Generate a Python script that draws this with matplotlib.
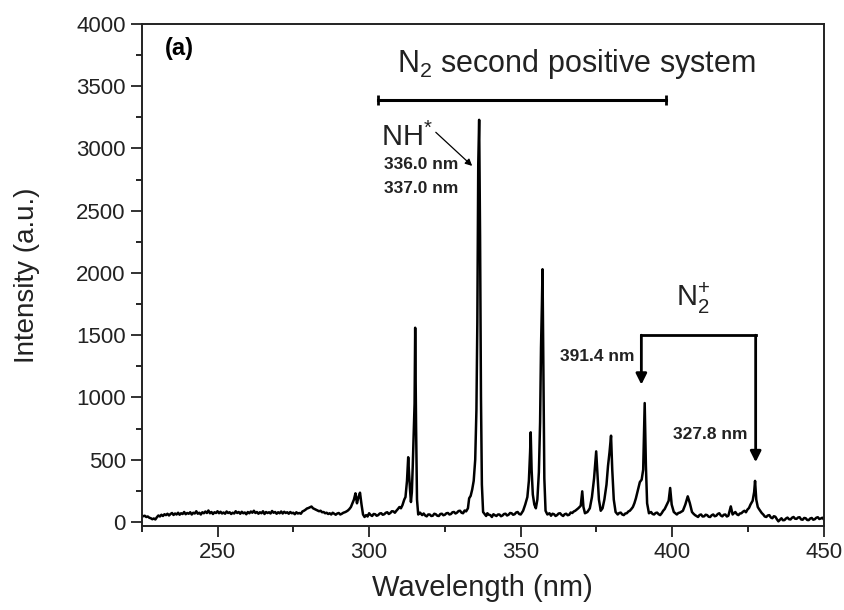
import numpy as np
import matplotlib
matplotlib.use("Agg")
import matplotlib.pyplot as plt
from matplotlib.ticker import MultipleLocator

plt.rcParams["font.family"] = ["Liberation Sans", "DejaVu Sans"]
plt.rcParams["mathtext.fontset"] = "custom"
plt.rcParams["mathtext.rm"] = "Liberation Sans"
plt.rcParams["mathtext.it"] = "Liberation Sans:italic"
plt.rcParams["mathtext.bf"] = "Liberation Sans:bold"

# ---------------------------------------------------------------
# spectrum (wavelength in nm, intensity a.u.)
# ---------------------------------------------------------------
# flat UV stretch, read every 0.5 nm from 225.0 to 294.5
wl_uv = list(np.arange(225.0, 295.0, 0.5))
int_uv = [52, 46, 50, 40, 44, 34, 30, 22, 28, 20,
          38, 52, 44, 58, 48, 62, 55, 66, 52, 64,
          72, 56, 68, 60, 74, 58, 70, 64, 80, 62,
          72, 66, 78, 60, 74, 68, 86, 66, 74, 60,
          78, 70, 84, 72, 92, 70, 80, 64, 78, 72,
          86, 70, 82, 68, 76, 66, 84, 72, 78, 64,
          74, 68, 86, 72, 80, 66, 82, 70, 76, 62,
          80, 70, 84, 74, 90, 72, 80, 66, 78, 70,
          86, 64, 80, 72, 78, 68, 88, 74, 80, 66,
          78, 70, 84, 68, 82, 72, 78, 66, 80, 70,
          74, 62, 78, 68, 72, 66, 84, 90, 98, 108,
          112, 118, 124, 110, 104, 98, 92, 86, 90, 78,
          80, 70, 74, 64, 70, 60, 74, 66, 58, 68,
          72, 60, 66, 74, 78, 84, 92, 104, 120, 150]

wl_sps1 = [295.0, 295.5, 296.0, 296.5, 297.0, 297.5, 298.0, 298.5, 299, 299.5, 300,
           300.5, 301, 301.5, 302, 302.5, 303, 303.5, 304, 304.5, 305, 305.5, 306,
           306.5, 307, 307.5, 308, 308.5, 309, 309.5, 310, 310.5, 311, 311.6, 312.0,
           312.5, 312.9, 313.2, 313.5, 313.8, 314.1, 314.4, 314.7, 315.0, 315.2, 315.5,
           315.8, 316.2, 316.8, 317.5, 318, 318.5, 319, 319.5, 320, 320.5, 321, 321.5,
           322, 322.5, 323, 323.5, 324, 324.5, 325, 325.5, 326, 326.5, 327, 327.5, 328,
           328.5, 329, 329.5, 330, 330.5, 331, 331.5, 332, 332.6, 333.0, 333.5, 334.0,
           334.5, 335.0, 335.4, 335.7, 336.0, 336.3, 336.6, 336.9, 337.2, 337.6, 338.2,
           338.6, 339, 339.5, 340, 340.5, 341, 341.5, 342, 342.5, 343, 343.5, 344,
           344.5, 345, 345.5, 346, 346.5, 347, 347.5, 348, 348.5, 349, 349.5, 350]
int_sps1 = [180, 230, 150, 200, 235, 140, 60, 40, 55, 44, 70,
            56, 48, 64, 62, 50, 55, 68, 70, 58, 62, 74, 78,
            64, 72, 86, 85, 74, 90, 104, 120, 110, 135, 180, 200,
            330, 520, 380, 260, 160, 240, 450, 700, 950, 1560, 760,
            180, 60, 75, 55, 68, 52, 45, 60, 60, 48, 50, 66,
            62, 50, 48, 64, 66, 54, 58, 70, 72, 60, 64, 78, 80,
            68, 75, 88, 90, 74, 70, 92, 85, 110, 190, 210, 260,
            330, 500, 900, 1600, 2870, 3230, 2300, 1000, 300, 80, 60,
            48, 70, 58, 55, 40, 62, 54, 48, 60, 60, 46, 52,
            64, 66, 52, 58, 72, 70, 58, 62, 76, 80, 64, 60]

wl_sps2 = [350.8, 351.5, 352.2, 352.7, 353.1, 353.3, 353.6, 354.0, 354.5, 355.0, 355.5,
           356.0, 356.4, 356.7, 357.0, 357.2, 357.5, 357.8, 358.2, 358.8, 359.5, 360,
           360.5, 361, 361.5, 362, 362.5, 363, 363.5, 364, 364.5, 365, 365.5, 366,
           366.5, 367, 367.5, 368, 368.5, 369, 369.8, 370.3, 370.7, 371.2, 372, 372.8,
           373.5, 374.2, 374.6, 374.9, 375.3, 375.8, 376.4, 377, 377.6, 378.3, 378.8,
           379.3, 379.8, 380.2, 380.7, 381.3, 382, 382.5, 383, 383.5, 384, 384.5, 385,
           385.5, 386, 386.5, 387, 387.5, 388]
int_sps2 = [90, 140, 200, 330, 560, 720, 420, 220, 140, 110, 180,
            400, 800, 1400, 1750, 2030, 1200, 350, 90, 60, 70, 50,
            66, 62, 48, 55, 68, 70, 56, 48, 62, 66, 54, 58, 76, 72,
            84, 90, 100, 110, 130, 246, 120, 70, 80, 110,
            200, 350, 480, 567, 400, 180, 90, 110, 180, 300, 450,
            560, 693, 420, 180, 80, 60, 72, 75, 60, 55, 68, 70,
            84, 90, 104, 120, 150, 190]

wl_ion = [388.7, 389.3, 389.9, 390.4, 390.9, 391.3, 391.7, 392.3, 393, 393.5, 394, 394.5,
          395, 395.5, 396, 396.5, 397, 397.5, 398, 398.8, 399.3, 399.8, 400.5, 401,
          401.5, 402, 402.5, 403, 403.5, 404.3, 405.1, 405.8, 406.5, 407, 407.5, 408,
          408.5, 409, 409.5, 410, 410.5, 411, 411.5, 412, 412.5, 413, 413.5, 414,
          414.5, 415, 415.5, 416, 416.5, 417, 417.5, 418, 418.5, 419.3, 419.9, 420.4,
          420.8, 421.3, 421.8, 422.3, 422.8, 423.3, 423.8, 424.3, 424.8, 425.3, 425.8,
          426.5, 427.0, 427.3, 427.7, 428.2, 428.6, 429, 429.5, 430, 430.5, 431, 431.5,
          432, 432.5, 433, 433.5, 434, 434.5, 435, 435.5, 436, 436.5, 437, 437.5, 438,
          438.5, 439, 439.5, 440, 440.5, 441, 441.5, 442, 442.5, 443, 443.5, 444,
          444.5, 445, 445.5, 446, 446.5, 447, 447.5, 448, 448.5, 449, 449.5, 450]
int_ion = [260, 320, 340, 420, 955, 450, 150, 70, 80, 64, 60, 72,
           75, 62, 55, 70, 90, 104, 130, 170, 273, 140, 80, 70,
           60, 72, 75, 82, 90, 140, 206, 150, 80, 66, 55, 48,
           40, 56, 60, 44, 45, 58, 55, 42, 40, 54, 60, 46,
           50, 64, 70, 52, 45, 58, 60, 44, 50, 125, 60, 72,
           80, 62, 55, 68, 70, 82, 90, 78, 100, 112, 140,
           170, 240, 330, 180, 120, 104, 90, 72, 60, 44, 40, 52,
           55, 36, 30, 46, 42, 22, 5, 18, 30, 14, 15, 28, 35,
           22, 20, 34, 40, 26, 25, 36, 38, 20, 18, 32, 30,
           16, 15, 28, 32, 18, 22, 34, 38, 24, 28, 34, 20]

wavelength = np.array(wl_uv + wl_sps1 + wl_sps2 + wl_ion, dtype=float)
intensity = np.array(int_uv + int_sps1 + int_sps2 + int_ion, dtype=float)

# annotation anchors (nm, a.u.)
sps_band = [303, 398]
ion_lines = [389.8, 427.5]
ion_tips = [1103, 480]

fig = plt.figure(figsize=(8.45, 6.1), dpi=100)
ax = fig.add_axes([0.1677, 0.1382, 0.8073, 0.8225])

ax.plot(wavelength, intensity, color="black", lw=1.8)

ax.set_xlim(225, 450)
ax.set_ylim(-30, 4000)
ax.xaxis.set_major_locator(MultipleLocator(50))
ax.xaxis.set_minor_locator(MultipleLocator(25))
ax.yaxis.set_major_locator(MultipleLocator(500))
ax.yaxis.set_minor_locator(MultipleLocator(250))
ax.tick_params(which="major", direction="out", length=8, width=1.3, labelsize=16,
               colors="#222222", top=False, right=False)
ax.tick_params(which="minor", direction="out", length=4, width=1.2, top=False, right=False)
for sp in ax.spines.values():
    sp.set_linewidth(1.4)
    sp.set_color("#222222")

ax.set_xlabel("Wavelength (nm)", fontsize=21, labelpad=8, color="#222222")
ax.set_ylabel("Intensity (a.u.)", fontsize=20, labelpad=26, color="#222222")

# panel label
ax.text(232.5, 3800, "(a)", fontsize=17, fontweight="bold", va="center", ha="left")

# N2 second positive system bar
ax.text(368.5, 3680, r"N$_\mathregular{2}$ second positive system", fontsize=22,
        ha="center", va="center", color="#222222")
ax.plot(sps_band, [3390, 3390], color="black", lw=2.2, marker="|", ms=7, mew=2)

# NH* label and arrow
ax.text(304.0, 3090, r"NH$^\mathregular{*}$", fontsize=21, ha="left", va="center",
        color="#222222")
ax.annotate("", xy=(334.0, 2860), xytext=(322.0, 3130),
            arrowprops=dict(arrowstyle="-|>", color="black", lw=0.9,
                            mutation_scale=10, shrinkA=0, shrinkB=0))
ax.text(305.0, 2870, "336.0 nm", fontsize=12.5, fontweight="bold", ha="left", va="center",
        color="#222222")
ax.text(304.8, 2676, "337.0 nm", fontsize=12.5, fontweight="bold", ha="left", va="center",
        color="#222222")

# N2+ bracket
ax.text(406.7, 1800, r"N$_\mathregular{2}^\mathregular{+}$", fontsize=21, ha="center",
        va="center", color="#222222")
ax.plot(ion_lines, [1500, 1500], color="black", lw=2.0, solid_capstyle="projecting")
for xl, tip in zip(ion_lines, ion_tips):
    ax.annotate("", xy=(xl, tip), xytext=(xl, 1500),
                arrowprops=dict(arrowstyle="-|>", color="black", lw=2.0,
                                mutation_scale=16, shrinkA=0, shrinkB=0))
ax.text(375.3, 1327, "391.4 nm", fontsize=12.5, fontweight="bold", ha="center",
        va="center", color="#222222")
ax.text(412.5, 700, "327.8 nm", fontsize=12.5, fontweight="bold", ha="center",
        va="center", color="#222222")

fig.savefig("out.png", dpi=100)
